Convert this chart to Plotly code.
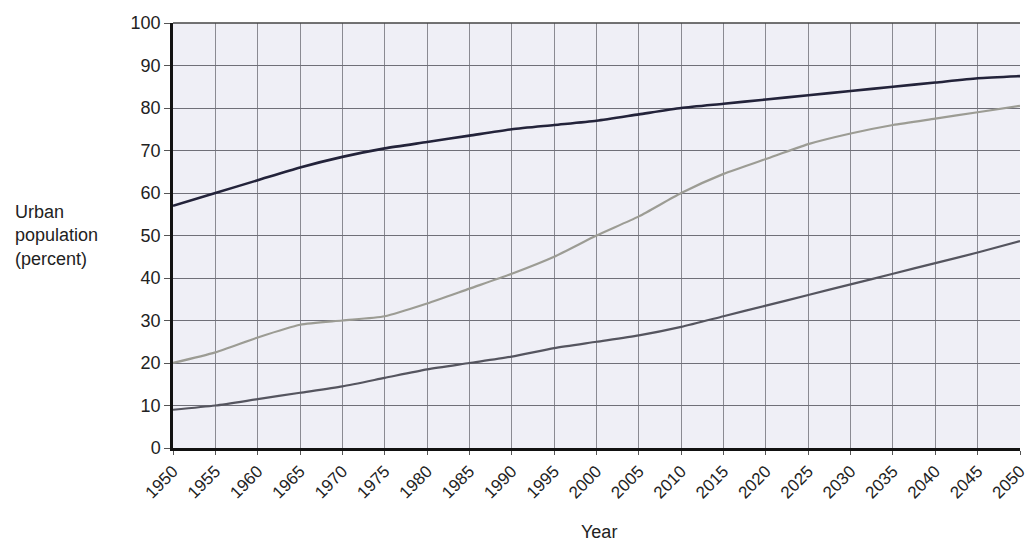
import plotly.graph_objects as go

years = list(range(1950, 2051, 5))
more_developed = [57, 60, 63, 66, 68.5, 70.5, 72, 73.5, 75, 76, 77, 78.5, 80, 81, 82, 83, 84, 85, 86, 87, 87.5]
world = [20, 22.5, 26, 29, 30, 31, 34, 37.5, 41, 45, 50, 54.5, 60, 64.5, 68, 71.5, 74, 76, 77.5, 79, 80.5]
less_developed = [9, 10, 11.5, 13, 14.5, 16.5, 18.5, 20, 21.5, 23.5, 25, 26.5, 28.5, 31, 33.5, 36, 38.5, 41, 43.5, 46, 48.7]
tick_labels = [str(y) for y in years]

fig = go.Figure()
fig.add_trace(go.Scatter(x=years, y=world, mode="lines", line=dict(color="#9c9c94", width=2.2, shape="spline", smoothing=0.6), showlegend=False))
fig.add_trace(go.Scatter(x=years, y=less_developed, mode="lines", line=dict(color="#55555f", width=2.2, shape="spline", smoothing=0.6), showlegend=False))
fig.add_trace(go.Scatter(x=years, y=more_developed, mode="lines", line=dict(color="#23233a", width=2.6, shape="spline", smoothing=0.6), showlegend=False))

fig.update_layout(
    width=1027, height=538,
    margin=dict(l=165, r=15, t=15, b=98, autoexpand=False),
    paper_bgcolor="white",
    plot_bgcolor="#efeff6",
    font=dict(family="Liberation Sans, Arial, sans-serif", size=18, color="#222"),
    annotations=[
        dict(text="Urban<br>population<br>(percent)", x=-0.189, y=0.50, xref="paper", yref="paper", showarrow=False,
             xanchor="left", yanchor="middle", align="left", font=dict(size=18)),
        dict(text="Year", x=0.503, y=-0.198, xref="paper", yref="paper", showarrow=False,
             xanchor="center", yanchor="middle", font=dict(size=18)),
    ],
)
fig.update_xaxes(range=[1950, 2050], tickmode="array", tickvals=years, ticktext=tick_labels, tickangle=-45,
                 automargin=False,
                 showgrid=True, gridcolor="#8a8a92", gridwidth=1, showline=True, linecolor="#111", linewidth=2.5,
                 ticks="outside", ticklen=4, tickcolor="#555", zeroline=False, tickfont=dict(size=17))
fig.update_yaxes(range=[0, 100], dtick=10, showgrid=True, gridcolor="#6f6f78", gridwidth=1, automargin=False,
                 showline=True, linecolor="#111", linewidth=2.5, ticks="outside", ticklen=6, tickcolor="#555",
                 zeroline=False, tickfont=dict(size=18))
fig.add_shape(type="line", xref="paper", yref="paper", x0=0, x1=1, y0=1, y1=1, line=dict(color="#444", width=1.5))
fig.write_html("out.html")
